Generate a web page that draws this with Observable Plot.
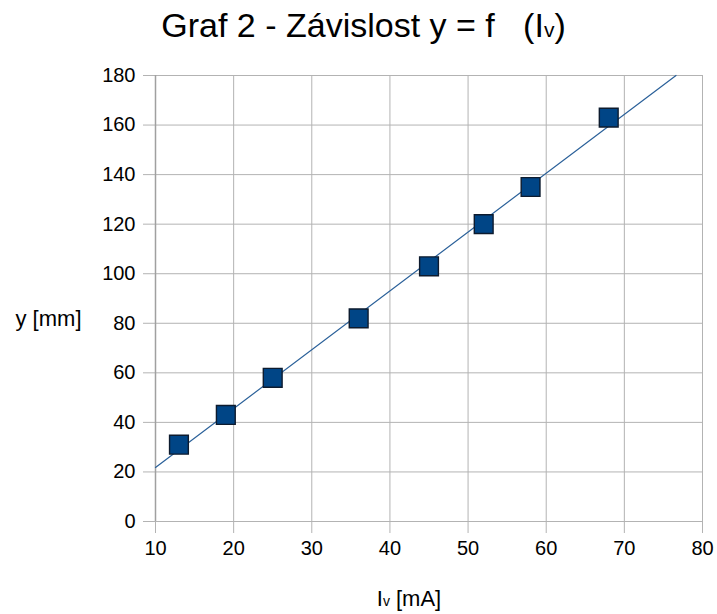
<!DOCTYPE html>
<html>
<head>
<meta charset="utf-8">
<script src="https://cdn.jsdelivr.net/npm/d3@7"></script>
<script src="https://cdn.jsdelivr.net/npm/@observablehq/plot@0.6"></script>
<style>
  body { margin: 0; background: #fff; font-family: "Liberation Sans", Arial, sans-serif; }
  #wrap { width: 717px; height: 614px; position: relative; }
  #title { height: 60px; width: 717px; box-sizing: border-box; padding-left: 10px; text-align: center;
           font-size: 34px; line-height: 50px; color: #000; white-space: pre; }
  #title sub { font-size: 21px; vertical-align: baseline; }
  svg { display: block; }
</style>
</head>
<body>
<div id="wrap">
  <div id="title">Graf 2 - Závislost y = f   (I<sub>v</sub>)</div>
  <div id="chart"></div>
</div>
<script>
// Data
const currentMA = [13, 19, 25, 36, 45, 52, 58, 68];
const deflectionMM = [31, 43, 58, 82, 103, 120, 135, 163];
const xTicks = [10, 20, 30, 40, 50, 60, 70, 80];
const yTicks = [0, 20, 40, 60, 80, 100, 120, 140, 160, 180];

const points = currentMA.map((x, i) => ({x, y: deflectionMM[i]}));

// least-squares trend line, drawn across the visible range
const mx = d3.mean(currentMA), my = d3.mean(deflectionMM);
const slope = d3.sum(points, p => (p.x - mx) * (p.y - my)) / d3.sum(points, p => (p.x - mx) ** 2);
const icpt = my - slope * mx;
const xMin = xTicks[0], yMax = yTicks[yTicks.length - 1];
const xEnd = Math.min(xTicks[xTicks.length - 1], (yMax - icpt) / slope);
const trend = [{x: xMin, y: icpt + slope * xMin}, {x: xEnd, y: icpt + slope * xEnd}];

const grid = "#b3b3b3";
const chart = Plot.plot({
  width: 717,
  height: 554,
  marginTop: 15,
  marginBottom: 93,
  marginLeft: 155,
  marginRight: 15,
  style: {fontFamily: "Liberation Sans, Arial, sans-serif", fontSize: "20px", color: "#000", background: "#fff"},
  x: {domain: [xTicks[0], xTicks[xTicks.length - 1]]},
  y: {domain: [yTicks[0], yTicks[yTicks.length - 1]]},
  marks: [
    Plot.gridX(xTicks, {stroke: grid, strokeOpacity: 1, strokeWidth: 1}),
    Plot.gridY(yTicks, {stroke: grid, strokeOpacity: 1, strokeWidth: 1}),
    Plot.frame({stroke: grid, strokeWidth: 1}),
    Plot.axisX(xTicks, {tickSize: 12, tickPadding: 7, stroke: grid, label: null, fontSize: 20, fill: "#000"}),
    Plot.axisY(yTicks, {tickSize: 12, tickPadding: 8, stroke: grid, label: null, fontSize: 20, fill: "#000"}),
    Plot.ruleX([xTicks[0]], {stroke: "#a0a0a0", strokeWidth: 1.5}),
    Plot.line(trend, {x: "x", y: "y", stroke: "#2a6099", strokeWidth: 1.2}),
    Plot.dot(points, {x: "x", y: "y", symbol: "square", r: 10.6, fill: "#004586", stroke: "#0d1b2e", strokeWidth: 1.4}),
    Plot.text(["y [mm]"], {frameAnchor: "left", dx: -140, dy: 20, fontSize: 22, textAnchor: "start", fill: "#000", className: "ylab"}),
    Plot.text(["I [mA]"], {frameAnchor: "bottom", dx: -20, dy: 84, fontSize: 22, textAnchor: "middle", fill: "#000", className: "xlab"})
  ]
});
document.getElementById("chart").appendChild(chart);

// subscript "v" in the x label
const xl = d3.select(chart).select(".xlab text");
xl.text(null);
xl.append("tspan").text("I");
xl.append("tspan").attr("font-size", 14).text("v");
xl.append("tspan").text(" [mA]");
</script>
</body>
</html>
